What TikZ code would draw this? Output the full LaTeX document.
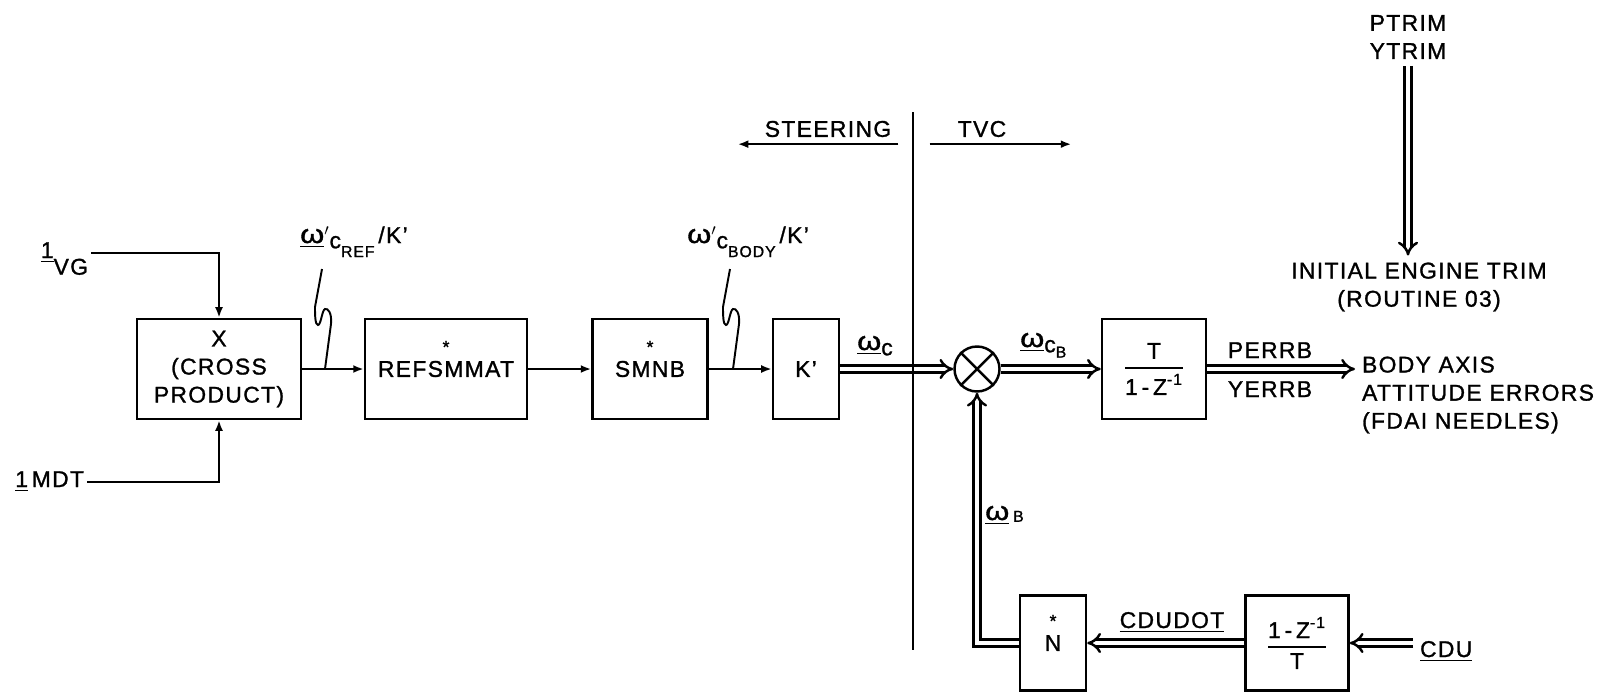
\documentclass[tikz,border=0pt]{standalone}
\usepackage{fontspec}
\setmainfont{Liberation Sans}[LetterSpace=6,FakeBold=1.2]
\usepackage{amsmath}
\usepackage{graphicx}
\usetikzlibrary{arrows.meta}

\newcommand{\uom}{\underline{\scalebox{1.35}[1.15]{ω}}}
\newcommand{\om}{\scalebox{1.35}[1.15]{ω}}

\begin{document}
\begin{tikzpicture}[
    x=0.02cm, y=-0.02cm,
    line width=1.4pt,
    every node/.style={font=\fontsize{13}{16}\selectfont},
    block/.style={draw,line width=1.4pt,minimum height=2cm,inner sep=2pt,align=center},
    sumj/.style={draw,line width=1.4pt,circle,minimum size=0.9cm,inner sep=0pt},
    sig/.style={-{Latex[length=6pt,width=4.5pt]}},
    dbl/.style={double,double distance=2.4pt,-{Implies}},
    starred/.style={label={[yshift=0.44cm]center:{\normalsize *}}},
    wiggle/.pic={\draw[line width=1.1pt] (0,0) -- (6,-45) .. controls (7,-56) and (3,-61) .. (0,-60)
        .. controls (-3,-59) and (-4,-44) .. (-7,-44) .. controls (-10,-44) and (-10,-55) .. (-10,-62) -- (-3,-100);}
]
\useasboundingbox (0,0) rectangle (1604,693);

% Inputs
\node[anchor=base east,inner sep=1pt] (vg) at (91,258) {\underline{1}\raisebox{-9.5pt}{VG}};
\node[anchor=base east,inner sep=1pt] (mdt) at (87,487) {\underline{1}\,MDT};

% Forward path
\node[block,minimum width=3.28cm] (X) at (219,369) {X\\(CROSS\\PRODUCT)};
\node[block,starred,minimum width=3.24cm] (R) at (446,369) {REFSMMAT};
\node[block,starred,minimum width=2.3cm] (SM) at (650,369) {SMNB};
\node[block,minimum width=1.32cm] (K) at (806,369) {K'};
\node[sumj] (S) at (977,369) {};
\draw (S.north west) -- (S.south east) (S.north east) -- (S.south west);
\node[block,minimum width=2.08cm] (T) at (1154,369) {$\genfrac{}{}{1pt}{0}{\mbox{T}}{\mbox{1\,-\,Z}^{\mbox{\small -1}}}$};

% Feedback path
\node[block,starred,minimum width=1.32cm,minimum height=1.9cm] (N) at (1053,643) {N};
\node[block,minimum width=2.06cm,minimum height=1.9cm] (D) at (1297,643) {$\genfrac{}{}{1pt}{0}{\mbox{1\,-\,Z}^{\mbox{\small -1}}}{\mbox{T}}$};

% Texts
\node[anchor=base west,inner sep=0pt] (reflbl) at (299,243) {\uom$'$\raisebox{-3pt}{c}\raisebox{-8pt}{\small REF}\,/K'};
\node[anchor=base west,inner sep=0pt] (bodylbl) at (686,243) {\om$'$\raisebox{-3pt}{c}\raisebox{-8pt}{\small BODY}\,/K'};
\node[anchor=base west,inner sep=0pt] (wc) at (856,350) {\uom\raisebox{-3pt}{c}};
\node[anchor=base west,inner sep=0pt] (wcb) at (1019,347) {\uom\raisebox{-3pt}{c}\raisebox{-6pt}{\small B}};
\node[anchor=base west,inner sep=0pt] (wb) at (984,520) {\uom\,\raisebox{-1pt}{\small B}};
\node[anchor=base] (perrb) at (1270,358) {PERRB};
\node[anchor=base] (yerrb) at (1270,397) {YERRB};
\node[anchor=west,align=left] (errs) at (1355,395) {BODY AXIS\\ATTITUDE ERRORS\\(FDAI NEEDLES)};
\node[align=center] (trim) at (1408,37) {PTRIM\\YTRIM};
\node[align=center] (init) at (1419,287) {INITIAL ENGINE TRIM\\(ROUTINE 03)};
\node[anchor=base] (cdudot) at (1172,628) {\underline{CDUDOT}};
\node[anchor=base west] (cdu) at (1413,657) {\underline{CDU}};
\node (steer) at (828,129) {STEERING};
\node (tvc) at (982,129) {TVC};

% Connectors
\draw[sig] (vg.base east) ++(0,-5) -| (X.north);
\draw[sig] (mdt.base east) ++(0,-5) -| (X.south);
\draw[sig] (X) -- (R);
\draw[sig] (R) -- (SM);
\draw[sig] (SM) -- (K);
\draw[dbl] (K) -- (S);
\draw[dbl] (S) -- (T);
\draw[dbl] (T.east) -- (T.east -| errs.west);
\draw[dbl] (trim.south) -- (trim.south |- init.north);
\draw[dbl] (cdu.west |- D.east) -- (D.east);
\draw[dbl] (D) -- (N);
\draw[dbl] (N.west) -| (S.south);

% Leaders
\coordinate (refpt) at (325,369);
\coordinate (bodypt) at (733,369);
\pic at (refpt) {wiggle};
\pic at (bodypt) {wiggle};

% Steering / TVC split
\draw[sig] (steer.south east) -- ([xshift=-0.4cm]steer.south west);
\draw[sig] ([xshift=-0.42cm]tvc.south west) -- ([xshift=1.16cm]tvc.south east);
\draw (913,112) -- (913,650);

\end{tikzpicture}
\end{document}
